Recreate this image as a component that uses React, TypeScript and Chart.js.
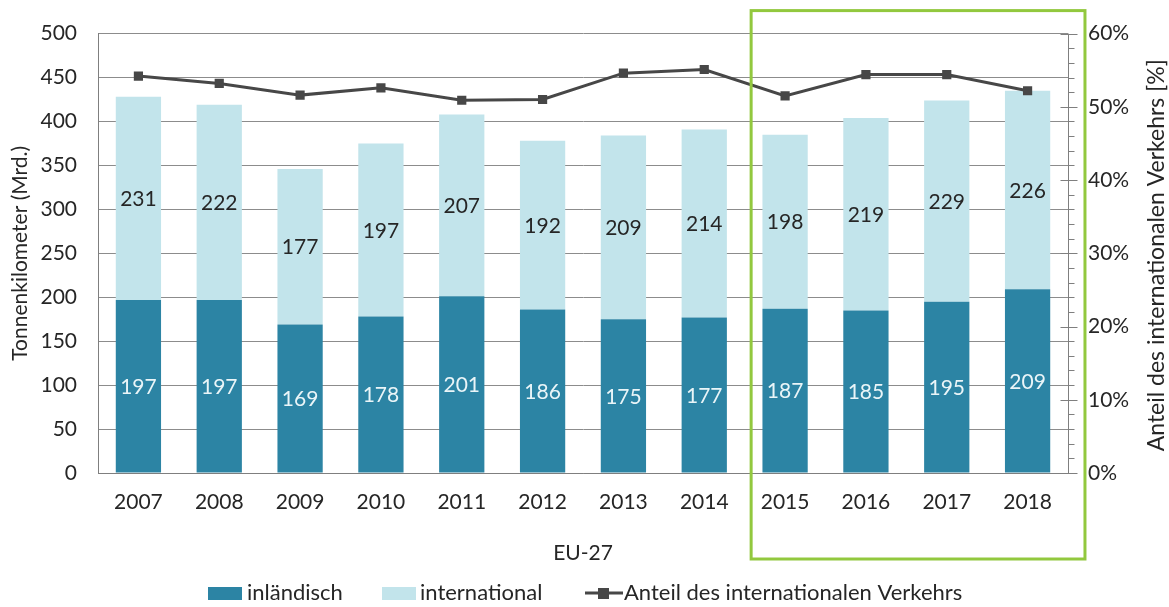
import React, { useEffect, useRef } from "react";
import { Chart, registerables } from "chart.js";

Chart.register(...registerables);

const years = ["2007", "2008", "2009", "2010", "2011", "2012", "2013", "2014", "2015", "2016", "2017", "2018"];
const domestic = [197, 197, 169, 178, 201, 186, 175, 177, 187, 185, 195, 209];
const international = [231, 222, 177, 197, 207, 192, 209, 214, 198, 219, 229, 226];
const shareInternational = [54.2, 53.2, 51.6, 52.6, 50.9, 51.0, 54.6, 55.1, 51.5, 54.4, 54.4, 52.2];
const highlightYears = ["2015", "2018"];

const leftTitle = "Tonnenkilometer (Mrd.)";
const rightTitle = "Anteil des internationalen Verkehrs [%]";
const xTitle = "EU-27";

const FONT = "Lato";
const TEXT = "#262626";
const DARK = "#2c84a4";
const LIGHT = "#c2e4eb";
const LINE = "#474747";
const GREEN = "#92c83e";

const extrasPlugin = {
  id: "extras",
  afterDatasetsDraw(chart: any) {
    const ctx = chart.ctx;
    ctx.save();
    ctx.font = `21px ${FONT}`;
    ctx.textAlign = "center";
    ctx.textBaseline = "middle";
    [0, 1].forEach((di) => {
      const meta = chart.getDatasetMeta(di);
      ctx.fillStyle = di === 0 ? "#eaf5f8" : TEXT;
      meta.data.forEach((el: any, i: number) => {
        const p = el.getProps(["x", "y", "base"], true);
        ctx.fillText(String(chart.data.datasets[di].data[i]), p.x, (p.y + p.base) / 2 + 1);
      });
    });
    ctx.restore();
  },
  afterDraw(chart: any) {
    const ctx = chart.ctx;
    const y1 = chart.scales.y1;
    const x = chart.scales.x;
    const area = chart.chartArea;
    ctx.save();
    // right axis line + ticks
    ctx.strokeStyle = "#7f7f7f";
    ctx.lineWidth = 1;
    const ax = Math.round(area.right) + 0.5;
    ctx.beginPath();
    ctx.moveTo(ax, area.top);
    ctx.lineTo(ax, area.bottom);
    for (let v = 0; v <= 60; v += 2) {
      const py = Math.round(y1.getPixelForValue(v)) + 0.5;
      const major = v % 10 === 0;
      ctx.moveTo(major ? ax - 8 : ax, py);
      ctx.lineTo(ax + (major ? 9 : 6), py);
    }
    ctx.stroke();

    // right axis title (bottom-to-top)
    ctx.fillStyle = TEXT;
    ctx.font = `23px ${FONT}`;
    ctx.textAlign = "center";
    ctx.textBaseline = "middle";
    ctx.translate(1157, (area.top + area.bottom) / 2 + 2);
    ctx.rotate(-Math.PI / 2);
    ctx.fillText(rightTitle, 0, 0);
    ctx.setTransform(1, 0, 0, 1, 0, 0);

    // highlight rectangle
    const step = x.getPixelForValue(1) - x.getPixelForValue(0);
    const i0 = years.indexOf(highlightYears[0]);
    const i1 = years.indexOf(highlightYears[1]);
    const left = x.getPixelForValue(i0) - step * 0.42;
    const right = x.getPixelForValue(i1) + step * 0.71;
    ctx.strokeStyle = GREEN;
    ctx.lineWidth = 3;
    ctx.strokeRect(left, area.top - 23, right - left, area.bottom - area.top + 109);

    // legend
    const ly = 593;
    ctx.font = `22px ${FONT}`;
    ctx.textAlign = "left";
    ctx.textBaseline = "middle";
    ctx.fillStyle = DARK;
    ctx.fillRect(208, ly - 6, 34, 13);
    ctx.fillStyle = TEXT;
    ctx.fillText(chart.data.datasets[0].label, 247, ly);
    ctx.fillStyle = LIGHT;
    ctx.fillRect(382, ly - 6, 34, 13);
    ctx.fillStyle = TEXT;
    ctx.fillText(chart.data.datasets[1].label, 420, ly);
    ctx.strokeStyle = LINE;
    ctx.lineWidth = 3;
    ctx.beginPath();
    ctx.moveTo(585, ly);
    ctx.lineTo(623, ly);
    ctx.stroke();
    ctx.fillStyle = LINE;
    ctx.fillRect(598, ly - 5, 11, 11);
    ctx.fillStyle = TEXT;
    ctx.fillText(chart.data.datasets[2].label, 624, ly);
    ctx.restore();
  },
};

export default function App() {
  const ref = useRef<HTMLCanvasElement>(null);
  useEffect(() => {
    if (!ref.current) return;
    const chart = new Chart(ref.current, {
      type: "bar",
      data: {
        labels: years,
        datasets: [
          { label: "inländisch", data: domestic, backgroundColor: DARK, stack: "s", yAxisID: "y", order: 1, barPercentage: 0.56, categoryPercentage: 1 },
          { label: "international", data: international, backgroundColor: LIGHT, stack: "s", yAxisID: "y", order: 1, barPercentage: 0.56, categoryPercentage: 1 },
          {
            type: "line",
            label: "Anteil des internationalen Verkehrs",
            data: shareInternational,
            yAxisID: "y1",
            borderColor: LINE,
            backgroundColor: LINE,
            borderWidth: 3,
            pointStyle: "rect",
            pointRadius: 6.5,
            pointBackgroundColor: LINE,
            pointBorderWidth: 0,
            order: 0,
          } as any,
        ],
      },
      options: {
        responsive: false,
        animation: false,
        devicePixelRatio: 1,
        layout: { padding: { top: 30, bottom: 34, left: 0, right: 0 } },
        plugins: { legend: { display: false }, tooltip: { enabled: false } },
        scales: {
          x: {
            stacked: true,
            grid: { display: false, drawTicks: false },
            border: { display: true, color: "#7f7f7f", width: 1 },
            ticks: { color: TEXT, font: { family: FONT, size: 21 }, padding: 17 },
            title: { display: true, text: xTitle, color: TEXT, font: { family: FONT, size: 21 }, padding: { top: 0, bottom: 7 } },
            afterFit: (s: any) => { s.height = 100; },
          },
          y: {
            stacked: true,
            min: 0,
            max: 500,
            position: "left",
            grid: { color: "#8c8c8c", lineWidth: 1, drawTicks: false },
            border: { display: true, color: "#7f7f7f", width: 1 },
            ticks: { stepSize: 50, color: TEXT, font: { family: FONT, size: 21 }, padding: 21 },
            title: { display: true, text: leftTitle, color: TEXT, font: { family: FONT, size: 21 }, padding: { top: 8, bottom: 0 } },
            afterFit: (s: any) => { s.width = 98; },
          },
          y1: {
            min: 0,
            max: 60,
            position: "right",
            grid: { display: false, drawTicks: false },
            border: { display: false },
            ticks: { stepSize: 10, color: TEXT, font: { family: FONT, size: 21 }, padding: 20, callback: (v: any) => `${v}%` },
            afterFit: (s: any) => { s.width = 101; },
          },
        },
      },
      plugins: [extrasPlugin],
    });
    return () => chart.destroy();
  }, []);
  return (
    <div style={{ position: "absolute", left: 0, top: 0, width: 1169, height: 607, background: "#fff" }}>
      <canvas ref={ref} width={1169} height={607} />
    </div>
  );
}
